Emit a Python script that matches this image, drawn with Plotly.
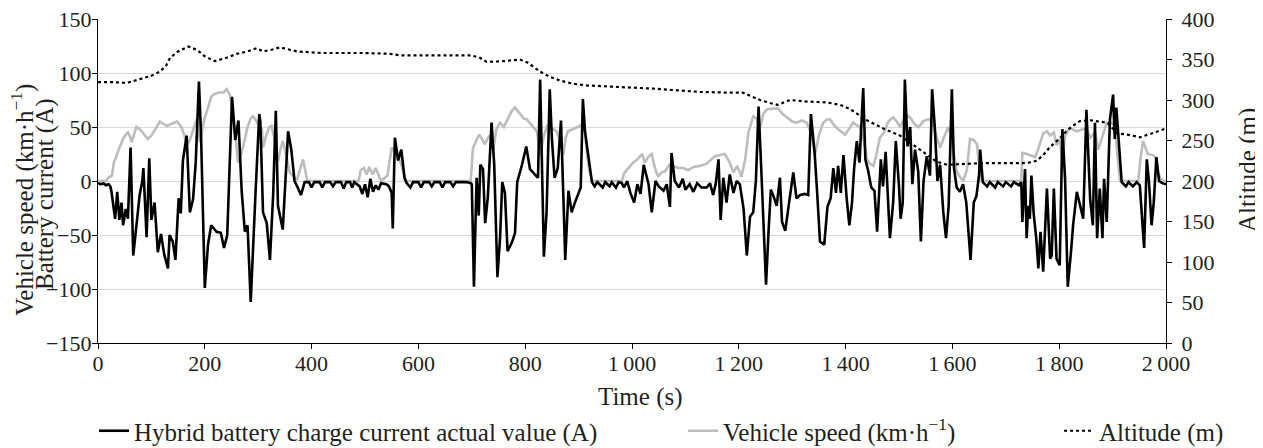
import plotly.graph_objects as go

# ---------------- data ----------------
current_t = [0, 5, 10, 15, 20, 23, 25, 32, 36, 40, 44, 47, 52, 56, 61, 66, 72, 78, 83, 85, 91, 96, 100, 106,
             112, 118, 124, 131, 134, 140, 145, 151, 155, 159, 166, 172, 178, 183, 189, 193, 200, 206, 212,
             222, 230, 236, 242, 251, 257, 263, 269, 275, 280, 286, 295, 302, 304, 309, 316, 322, 328, 333,
             337, 341, 346, 351, 356, 362, 368, 374, 380, 387, 395, 400, 405, 415, 420, 425, 435, 440, 445,
             455, 460, 465, 472, 476, 480, 490, 495, 500, 505, 510, 515, 520, 525, 530, 540, 545, 550, 552,
             556, 562, 568, 574, 578, 585, 590, 600, 605, 610, 620, 625, 630, 640, 645, 650, 660, 665, 670,
             690, 698, 700, 704, 709, 713, 716, 721, 725, 730, 737, 742, 748, 753, 757, 762, 767, 775, 781,
             785, 794, 802, 809, 818, 824, 828, 831, 835, 840, 846, 850, 855, 861, 867, 872, 875, 881, 887,
             893, 899, 904, 908, 912, 918, 925, 930, 935, 945, 950, 958, 962, 970, 975, 981, 985, 991, 997,
             1004, 1010, 1016, 1022, 1031, 1037, 1044, 1050, 1059, 1065, 1071, 1074, 1080, 1088, 1095, 1100,
             1108, 1115, 1122, 1130, 1140, 1146, 1152, 1157, 1162, 1166, 1171, 1177, 1183, 1190, 1196, 1202,
             1209, 1215, 1221, 1227, 1232, 1237, 1243, 1251, 1256, 1260, 1265, 1271, 1277, 1281, 1287, 1292,
             1302, 1308, 1315, 1324, 1330, 1335, 1342, 1347, 1352, 1360, 1366, 1372, 1377, 1382, 1386, 1391,
             1396, 1402, 1407, 1412, 1416, 1421, 1426, 1433, 1437, 1442, 1448, 1454, 1459, 1466, 1470, 1475,
             1481, 1483, 1489, 1494, 1500, 1503, 1507, 1511, 1516, 1521, 1525, 1530, 1536, 1541, 1546, 1552,
             1558, 1562, 1567, 1572, 1577, 1583, 1588, 1593, 1599, 1603, 1608, 1614, 1620, 1626, 1634, 1640,
             1645, 1650, 1652, 1657, 1665, 1670, 1680, 1685, 1695, 1700, 1710, 1715, 1725, 1729, 1731, 1736,
             1739, 1742, 1745, 1748, 1752, 1757, 1761, 1765, 1770, 1777, 1783, 1786, 1790, 1795, 1801, 1806,
             1811, 1816, 1822, 1826, 1833, 1839, 1845, 1851, 1858, 1863, 1867, 1871, 1876, 1881, 1884, 1889,
             1895, 1901, 1904, 1907, 1913, 1917, 1925, 1930, 1938, 1945, 1951, 1955, 1959, 1964, 1968, 1973,
             1977, 1982, 1987, 1993, 2000]
current_a = [-2, -3, -2, -4, -3, -5, -9, -35, -10, -36, -20, -41, -26, -35, 31, -69, -41, -13, 0, 12, -52, 21,
             -36, -20, -66, -49, -68, -81, -50, -56, -73, -16, -30, 19, 42, -29, -17, 17, 92, 42, -99, -59, -41,
             -47, -48, -62, -50, 78, 38, 56, -9, -47, -41, -112, -11, 62, 55, -29, -39, -73, -13, 65,
             -23, -34, -45, 0, 46, 29, 0, -6, -13, -1, -1, -6, -1, -1, -6, -1, -1, -5, -1,
             -1, -7, -1, -1, -6, -1, -5, -12, -3, -15, 2, -10, -4, -8, -2, -3, -5, -11, -44,
             40, 19, 29, 3, -2, -6, -1, -1, -6, -1, -1, -5, -1, -1, -6, -1, -1, -5, -1,
             -1, -2, -3, -98, 3, -32, 15, 11, -39, -15, 54, 15, -89, -52, -1, -11, -65, -57, -48,
             -1, 15, 32, 11, 6, 3, 94, 20, -70, -29, 85, 39, 3, 12, 56, -23, -73, -9, -29,
             -20, -13, -6, 76, 46, 24, -1, -5, -1, -6, -1, -5, -1, -6, -1, -2, -6, 0, -11,
             -20, -3, -12, 15, -3, -29, 0, -5, -9, -3, -24, 26, 0, -6, 2, -8,
             -3, -10, -2, -6, -6, -2, -13, -2, 20, -36, 3, -20, 6, -11, 0, -3,
             -26, -69, -33, -29, 0, 69, 0, -96, -44, -8, -14, -23, 3, -38, -46, -29,
             8, -16, -13, -12, -13, 62, 26, -13, -56, -59, -24, -16, 12, -11, 14, -11,
             24, -16, -41, -20, 12, 37, 17, 86, 20, 10, -6, -9, -47, 20, -5, 27,
             -35, -53, -20, 37, -5, -35, -20, 94, 32, 50, -3, 29, 9, -56, 0, 23,
             5, 85, 50, 0, 15, -29, -53, -23, 85, 12, -6, -10, -3, -20, -73, -20,
             -14, 6, 29, -1, -5, -1, -6, -1, -5, -1, -5, -1, -4, -1, -38, 11,
             -53, -23, -35, 5, -29, -53, -81, -47, -84, -7, -72, -69, -7, -72, -78, 48,
             2, -98, -66, -41, -10, -23, -35, 66, -17, -41, 54, -53, -7, -53, 2, -38,
             57, 80, 39, 68, 23, -1, -5, -1, -5, -1, -4, -36, -62, 20, 0, -41,
             -20, 22, 0, -2, -3]

speed_t = [0, 15, 19, 26, 30, 34, 37, 42, 47, 52, 56, 60, 63, 68, 72, 80, 88, 93, 100, 108, 116, 122, 129,
           138, 148, 156, 162, 166, 172, 180, 185, 191, 196, 199, 206, 212, 216, 226, 235, 241, 247, 253, 258,
           262, 268, 272, 280, 286, 290, 296, 302, 307, 309, 316, 321, 325, 330, 337, 342, 346, 352, 359, 365,
           372, 378, 384, 388, 392, 488, 492, 498, 503, 508, 514, 520, 526, 530, 542, 550, 556, 563, 570, 575,
           698, 702, 708, 714, 720, 724, 730, 734, 740, 746, 753, 760, 768, 775, 781, 790, 797, 803, 812, 822,
           828, 834, 841, 850, 859, 866, 871, 876, 880, 890, 898, 906, 912, 915, 920, 925, 981, 985, 993, 1002,
           1010, 1019, 1024, 1030, 1037, 1043, 1049, 1055, 1062, 1070, 1077, 1086, 1096, 1105, 1115, 1127, 1140,
           1155, 1165, 1174, 1182, 1190, 1197, 1205, 1212, 1218, 1227, 1233, 1240, 1246, 1252, 1260, 1274, 1282,
           1290, 1300, 1308, 1318, 1327, 1335, 1343, 1350, 1358, 1365, 1371, 1378, 1386, 1392, 1399, 1406, 1414,
           1420, 1427, 1433, 1440, 1446, 1452, 1458, 1464, 1472, 1480, 1489, 1496, 1502, 1508, 1515, 1522, 1530,
           1537, 1545, 1552, 1558, 1565, 1571, 1577, 1584, 1592, 1597, 1602, 1608, 1614, 1620, 1627, 1633, 1640,
           1646, 1650, 1655, 1729, 1731, 1740, 1745, 1755, 1761, 1770, 1777, 1783, 1790, 1795, 1801, 1806, 1811,
           1820, 1833, 1845, 1851, 1858, 1867, 1873, 1879, 1889, 1895, 1904, 1911, 1914, 1948, 1952, 1957, 1962,
           1966, 1975, 1980, 1985, 1990, 1995, 2000]
speed_v = [0, 0, 3, 5, 18, 22, 27, 33, 39, 43, 45, 41, 36, 44, 50, 47, 42, 39, 42, 48, 55, 53, 51,
           53, 55, 50, 42, 33, 38, 50, 57, 36, 50, 57, 68, 78, 80, 82, 82, 85, 80, 62, 40,
           17, 25, 32, 50, 58, 60, 56, 50, 48, 31, 44, 50, 51, 40, 18, 30, 37, 25, 8, 5,
           0, 10, 20, 10, 0, 0, 10, 12, 6, 13, 6, 12, 5, 0, 5, 31, 27, 22, 12, 0,
           0, 30, 37, 43, 38, 34, 40, 42, 28, 48, 54, 50, 58, 65, 68, 62, 58, 57, 52, 46,
           24, 40, 51, 49, 46, 36, 24, 40, 46, 48, 50, 52, 45, 28, 10, 0, 0, 7, 12, 17,
           20, 25, 17, 22, 25, 12, 4, 8, 9, 15, 14, 12, 12, 10, 13, 14, 16,
           23, 24, 25, 18, 8, 14, 4, 20, 45, 60, 58, 50, 62, 66, 67, 67, 62,
           59, 55, 54, 56, 54, 45, 25, 42, 54, 57, 57, 52, 48, 46, 43, 48, 54,
           52, 50, 40, 20, 16, 14, 25, 40, 45, 55, 59, 55, 50, 56, 61, 58, 52,
           50, 55, 57, 57, 50, 40, 31, 40, 50, 42, 25, 9, 4, 0, 10, 39, 38,
           34, 15, 0, 0, 26, 25, 24, 22, 30, 44, 46, 42, 45, 33, 39, 17, 42,
           49, 46, 48, 49, 40, 45, 29, 39, 54, 55, 51, 14, 0, 0, 20, 37, 30,
           25, 24, 22, 8, 2, 0, 0]

altitude_t = [0, 30, 54, 80, 100, 116, 128, 135, 150, 169, 185, 200, 219, 240, 260, 280, 297, 309, 325, 341,
              372, 420, 500, 547, 566, 700, 715, 728, 760, 790, 805, 828, 845, 865, 890, 915, 950, 1002, 1040,
              1084, 1127, 1183, 1208, 1225, 1240, 1260, 1273, 1296, 1330, 1365, 1390, 1408, 1425, 1440, 1470,
              1502, 1530, 1552, 1570, 1590, 1620, 1652, 1700, 1732, 1745, 1758, 1770, 1783, 1800, 1814, 1825,
              1839, 1858, 1875, 1890, 1900, 1908, 1930, 1951, 1970, 1993, 2000]
altitude_m = [322, 322, 321, 326, 330, 335, 343, 352, 360, 366, 362, 354, 348, 352, 357, 360, 364, 360, 362, 365,
              360, 358, 358, 357, 355, 355, 352, 347, 348, 350, 346, 335, 329, 324, 320, 318, 317, 316, 314,
              312, 310, 309, 309, 304, 300, 296, 294, 300, 298, 297, 294, 289, 282, 275, 265,
              256, 243, 232, 224, 220, 221, 222, 222, 222, 223, 225, 232, 242, 252, 262, 268,
              274, 275, 273, 272, 265, 259, 257, 254, 258, 263, 265]

x_tickvals = list(range(0, 2001, 200))
x_ticktext = ["0", "200", "400", "600", "800", "1\u2009000", "1\u2009200", "1\u2009400", "1\u2009600",
              "1\u2009800", "2\u2009000"]
y_tickvals = [-150, -100, -50, 0, 50, 100, 150]
y_ticktext = ["\u2212150", "\u2212100", "\u221250", "0", "50", "100", "150"]
y2_tickvals = list(range(0, 401, 50))

name_current = "Hybrid battery charge current actual value (A)"
name_speed = "Vehicle speed (km\u00b7h<sup>\u22121</sup>)"
name_alt = "Altitude (m)"
title_x = "Time (s)"
title_y_line1 = "Vehicle speed (km\u00b7h<sup>\u22121</sup>)"
title_y_line2 = "Battery current (A)"
title_y2 = "Altitude (m)"

# ---------------- figure ----------------
# the page body has an 8 px margin, so the figure is 8 px smaller than the window
W, H = 1255, 440
ML, MR, MT, MB = 90, 97, 11, 105
PW, PH = W - ML - MR, H - MT - MB

FONT = "Liberation Serif, Times New Roman, serif"
TXT = "#231f20"
TICK = 22
TITLE = 25


def px_to_paper_x(px):
    return (px - ML) / PW


def px_to_paper_y(py):
    return (H - MB - py) / PH


fig = go.Figure()
fig.add_trace(go.Scatter(x=speed_t, y=speed_v, mode="lines", name=name_speed,
                         line=dict(color="#bdbdbd", width=2.6), legend="legend2"))
fig.add_trace(go.Scatter(x=current_t, y=current_a, mode="lines", name=name_current,
                         line=dict(color="#000000", width=2.6), legend="legend"))
fig.add_trace(go.Scatter(x=altitude_t, y=altitude_m, mode="lines", name=name_alt, yaxis="y2",
                         line=dict(color="#000000", width=2.2, dash="dot"), legend="legend3"))

LEG_Y = 1 - 423 / H
leg_common = dict(orientation="h", xref="container", yref="container", yanchor="middle", xanchor="left",
                  bgcolor="rgba(0,0,0,0)", font=dict(family=FONT, size=TITLE, color=TXT),
                  itemwidth=30, tracegroupgap=0)

axis_common = dict(ticks="outside", ticklen=5, tickwidth=1.2, tickcolor="black", automargin=False,
                   showline=True, linecolor="black", linewidth=1.3, zeroline=False,
                   ticklabeloverflow="allow", tickfont=dict(size=TICK))

fig.update_layout(
    width=W, height=H,
    margin=dict(l=ML, r=MR, t=MT, b=MB, autoexpand=False),
    paper_bgcolor="white", plot_bgcolor="white",
    font=dict(family=FONT, size=TICK, color=TXT),
    showlegend=True,
    legend=dict(x=86 / W, y=LEG_Y, **leg_common),
    legend2=dict(x=675 / W, y=LEG_Y, **leg_common),
    legend3=dict(x=1051 / W, y=LEG_Y, **leg_common),
    xaxis=dict(range=[0, 2000], tickmode="array", tickvals=x_tickvals, ticktext=x_ticktext,
               showgrid=False, ticklabelstandoff=-5, **axis_common),
    yaxis=dict(range=[-150, 150], tickmode="array", tickvals=y_tickvals, ticktext=y_ticktext,
               showgrid=True, gridcolor="#d9d9d9", gridwidth=1.2, ticklabelstandoff=-4, **axis_common),
    yaxis2=dict(range=[0, 400], tickmode="array", tickvals=y2_tickvals, overlaying="y", side="right",
                showgrid=False, ticklabelstandoff=5, **axis_common),
    annotations=[
        dict(text=title_x, xref="paper", yref="paper", x=px_to_paper_x(632), y=px_to_paper_y(389),
             xanchor="center", yanchor="middle", showarrow=False, font=dict(size=TITLE)),
        dict(text=title_y_line1, xref="paper", yref="paper", x=px_to_paper_x(14), y=px_to_paper_y(192),
             xanchor="center", yanchor="middle", textangle=-90, showarrow=False, font=dict(size=TITLE)),
        dict(text=title_y_line2, xref="paper", yref="paper", x=px_to_paper_x(37), y=px_to_paper_y(186),
             xanchor="center", yanchor="middle", textangle=-90, showarrow=False, font=dict(size=TITLE)),
        dict(text=title_y2, xref="paper", yref="paper", x=px_to_paper_x(1240), y=px_to_paper_y(162),
             xanchor="center", yanchor="middle", textangle=-90, showarrow=False, font=dict(size=TITLE)),
    ],
)

fig.write_html("out.html")
